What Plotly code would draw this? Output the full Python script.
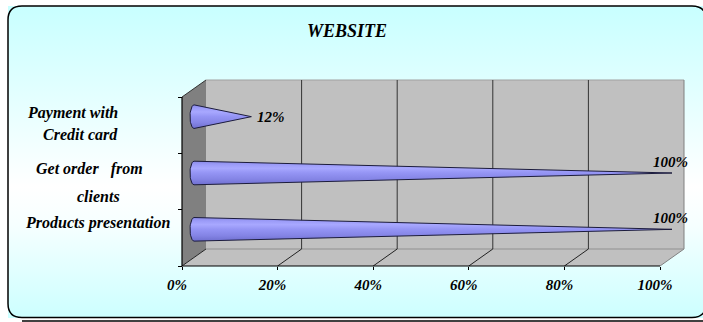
import numpy as np
import plotly.graph_objects as go

# ---------------- data ----------------
categories = ["Products presentation", "Get order\u00a0\u00a0\u00a0from\nclients", "Payment with\nCredit card"]  # bottom -> top
values = [100, 100, 12]
value_labels = ["100%", "100%", "12%"]
x_ticks = [0, 20, 40, 60, 80, 100]
x_tick_labels = ["0%", "20%", "40%", "60%", "80%", "100%"]
chart_title = "WEBSITE"

# ---------------- layout geometry (pixels) ----------------
W, H = 703, 322
X0_PX, X100_PX = 182, 660          # front floor edge, 0% .. 100%
FLOOR_PX, TOP_PX = 266, 97         # front floor / front top
DEPTH_DX_PX, DEPTH_DY_PX = 24, 17  # 3-D depth offset
CONE_RY_PX, CONE_RX_PX = 11.8, 4.0

n = len(categories)
SX = (X100_PX - X0_PX) / 100.0
SY = (FLOOR_PX - TOP_PX) / n
x_range = [-X0_PX / SX, (W - X0_PX) / SX]
y_range = [-0.5 - (H - FLOOR_PX) / SY, -0.5 + FLOOR_PX / SY]
DX = DEPTH_DX_PX / SX
DY = DEPTH_DY_PX / SY
Y_LO, Y_HI = -0.5, n - 0.5
XMAX = 100


def px_x(p):
    return (p - X0_PX) / SX


def px_y(p):
    return -0.5 + (FLOOR_PX - p) / SY


def pap(x, y):
    return x / W, 1 - y / H


FONT = dict(family="Liberation Serif", size=15, color="black", weight="bold", style="italic")
CAT_FONT = {**FONT, "size": 16}

fig = go.Figure()

# background gradient
bx0, bx1, by0, by1 = px_x(8), px_x(710), px_y(6), px_y(318)
fig.add_trace(go.Scatter(
    x=[bx0, bx1, bx1, bx0, bx0], y=[by0, by0, by1, by1, by0],
    fill="toself", mode="lines", line=dict(width=0),
    fillgradient=dict(type="vertical",
                      colorscale=[[0, "#ccffff"], [0.3, "#f6ffff"], [0.42, "#ffffff"], [1, "#c8ffff"]]),
    hoverinfo="skip", showlegend=False))


def poly(xs, ys, fill, line_color=None, lw=0):
    fig.add_trace(go.Scatter(
        x=list(xs) + [xs[0]], y=list(ys) + [ys[0]], fill="toself", fillcolor=fill, mode="lines",
        line=dict(width=lw, color=line_color or fill), hoverinfo="skip", showlegend=False))


def seg(x0, y0, x1, y1, color, lw=1):
    fig.add_trace(go.Scatter(x=[x0, x1], y=[y0, y1], mode="lines",
                             line=dict(color=color, width=lw), hoverinfo="skip", showlegend=False))


# walls
poly([0, 0, DX, DX], [Y_LO, Y_HI, Y_HI + DY, Y_LO + DY], "#808080")
poly([DX, XMAX + DX, XMAX + DX, DX], [Y_LO + DY, Y_LO + DY, Y_HI + DY, Y_HI + DY], "#c0c0c0")
poly([0, XMAX, XMAX + DX, DX], [Y_LO, Y_LO, Y_LO + DY, Y_LO + DY], "#c0c0c0")

# back wall border (grey)
seg(DX, Y_HI + DY, XMAX + DX, Y_HI + DY, "#a0a0a0")
seg(XMAX + DX, Y_LO + DY, XMAX + DX, Y_HI + DY, "#808080")
seg(XMAX, Y_LO, XMAX + DX, Y_LO + DY, "#808080")
seg(DX, Y_LO + DY, XMAX + DX, Y_LO + DY, "#909090")

# gridlines on back wall and floor
for v in x_ticks:
    if 0 < v < XMAX:
        seg(v + DX, Y_LO + DY, v + DX, Y_HI + DY, "#333333")
    if v < XMAX:
        seg(v, Y_LO, v + DX, Y_LO + DY, "#222222")
seg(0, Y_HI, DX, Y_HI + DY, "#333333")

# cones
ry = CONE_RY_PX / SY
rx = CONE_RX_PX / SX
t = np.linspace(1.5 * np.pi, 0.5 * np.pi, 25)
cone_scale = [[0, "#6f6fcf"], [0.25, "#8585e6"], [0.5, "#9494f4"], [0.7, "#a8a8ff"],
              [0.85, "#9c9cf8"], [1, "#8a8ae8"]]
for i, v in enumerate(values):
    cy = i + DY / 2
    cx = DX / 2
    xs = [cx, v + DX / 2, cx] + list(cx + rx * np.cos(t))
    ys = [cy + ry, cy, cy - ry] + list(cy + ry * np.sin(t))
    fig.add_trace(go.Scatter(
        x=xs, y=ys, fill="toself", mode="lines",
        line=dict(color="#1c1c3c", width=1),
        fillgradient=dict(type="vertical", colorscale=cone_scale),
        hoverinfo="skip", showlegend=False))

# front axis lines
seg(0, Y_LO, XMAX, Y_LO, "black", 1.2)
seg(0, Y_LO, 0, Y_HI, "black", 1.2)

annotations = []
# data labels
for i, (v, lab) in enumerate(zip(values, value_labels)):
    tip_x = v + DX / 2
    tip_y = i + DY / 2
    if v >= 90:
        annotations.append(dict(x=tip_x - 1.5 / SX, y=tip_y + 11 / SY, text=lab, showarrow=False,
                                xanchor="center", yanchor="middle", font=FONT))
    else:
        annotations.append(dict(x=tip_x + 4 / SX, y=tip_y, text=lab, showarrow=False,
                                xanchor="left", yanchor="middle", font=FONT))

# category labels (one annotation per line: (category index, line index, anchor, x px, y px))
label_place = [
    (2, 0, "right", 120, 113), (2, 1, "right", 120, 134),
    (1, 0, "center", 89, 169), (1, 1, "center", 98, 196),
    (0, 0, "center", 98, 222.5),
]
for ci, li, anc, xp, yp in label_place:
    line = categories[ci].split("\n")[li]
    annotations.append(dict(x=px_x(xp), y=px_y(yp), text=line, showarrow=False,
                            xanchor=anc, yanchor="middle", font=CAT_FONT))

# title
annotations.append(dict(x=px_x(346.5), y=px_y(30.5), text=chart_title, showarrow=False,
                        xanchor="center", yanchor="middle", font={**FONT, "size": 18}))

# outer rounded border + shadow
L, T, R, B, r = 8, 6, 706, 317.5, 14
def P(x, y):
    a, b = pap(x, y)
    return f"{a:.5f},{b:.5f}"
path = (f"M{P(L + r, T)} L{P(R - r, T)} Q{P(R, T)} {P(R, T + r)} L{P(R, B - r)} "
        f"Q{P(R, B)} {P(R - r, B)} L{P(L + r, B)} Q{P(L, B)} {P(L, B - r)} "
        f"L{P(L, T + r)} Q{P(L, T)} {P(L + r, T)} Z")
shapes = [
    dict(type="path", xref="paper", yref="paper", path=path, line=dict(color="black", width=1.5)),
    dict(type="line", xref="paper", yref="paper", x0=22 / W, x1=1, y0=1 - 321 / H, y1=1 - 321 / H,
         line=dict(color="black", width=1.5)),
]

fig.update_layout(
    width=W, height=H, margin=dict(l=0, r=0, t=0, b=0),
    paper_bgcolor="white", plot_bgcolor="rgba(0,0,0,0)",
    showlegend=False, annotations=annotations, shapes=shapes,
    xaxis=dict(range=x_range, domain=[0, 1], anchor="free", position=(H - FLOOR_PX) / H,
               tickvals=x_ticks, ticktext=x_tick_labels, ticks="outside", ticklen=3,
               tickcolor="black", tickwidth=1, showgrid=False, zeroline=False, showline=False,
               tickfont=FONT, ticklabelshift=-5, ticklabelstandoff=2, fixedrange=True),
    yaxis=dict(range=y_range, domain=[0, 1], anchor="free", position=X0_PX / W,
               tickvals=[k - 0.5 for k in range(n + 1)], ticks="outside", ticklen=4,
               tickcolor="black", tickwidth=1, showticklabels=False, showgrid=False,
               zeroline=False, showline=False, fixedrange=True),
)

fig.write_html("out.html")
